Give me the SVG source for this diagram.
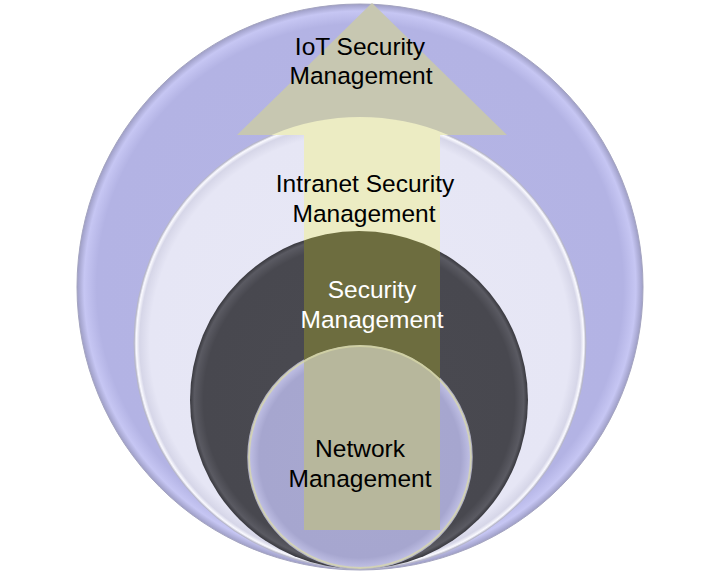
<svg xmlns="http://www.w3.org/2000/svg" xmlns:xlink="http://www.w3.org/1999/xlink" width="717" height="572" viewBox="0 0 717 572">
  <style>
    .lbl { font-family: "Liberation Sans", Arial, sans-serif; font-size: 24.5px; text-anchor: middle; }
    .dark { fill: #000000; }
    .light { fill: #ffffff; }
  </style>
  <defs>
    <radialGradient id="gOuter" cx="0.5" cy="0.5" r="0.5">
      <stop offset="0" stop-color="#b5b5e5"/>
      <stop offset="0.93" stop-color="#b3b3e4"/>
      <stop offset="0.975" stop-color="#c6c6f3"/>
      <stop offset="1" stop-color="#9e9ec6"/>
    </radialGradient>
    <radialGradient id="gSecond" cx="0.5" cy="0.5" r="0.5">
      <stop offset="0" stop-color="#e8e8f6"/>
      <stop offset="0.93" stop-color="#e6e6f5"/>
      <stop offset="0.975" stop-color="#d6d6e8"/>
      <stop offset="0.99" stop-color="#fafaff"/>
      <stop offset="1" stop-color="#b8b8cc"/>
    </radialGradient>
    <radialGradient id="gDark" cx="0.5" cy="0.5" r="0.5">
      <stop offset="0" stop-color="#4a4a51"/>
      <stop offset="0.92" stop-color="#48484f"/>
      <stop offset="0.975" stop-color="#5a5a62"/>
      <stop offset="1" stop-color="#38383e"/>
    </radialGradient>
    <radialGradient id="gSmall" cx="0.5" cy="0.5" r="0.5">
      <stop offset="0" stop-color="#a8a8d0"/>
      <stop offset="0.9" stop-color="#a6a6cf"/>
      <stop offset="0.97" stop-color="#babae0"/>
      <stop offset="1" stop-color="#c8c8d8"/>
    </radialGradient>
    <path id="arrowShape" d="M304,530 L304,135 L237,135 L372,3 L507,135 L440,135 L440,530 Z"/>
    <clipPath id="cSecond"><circle cx="360" cy="343" r="226"/></clipPath>
    <clipPath id="cDark"><circle cx="359" cy="400" r="169"/></clipPath>
    <clipPath id="cSmall"><circle cx="360" cy="457" r="112"/></clipPath>
  </defs>

  <g id="node-iot">
    <circle cx="360" cy="287" r="283" fill="url(#gOuter)" stroke="#a4a4c0" stroke-width="1"/>
  </g>
  <g id="node-intranet">
    <circle cx="360" cy="343" r="226" fill="url(#gSecond)" stroke="#b8b8ca" stroke-width="1"/>
  </g>
  <g id="node-security">
    <circle cx="359" cy="400" r="169" fill="url(#gDark)"/>
  </g>
  <g id="node-network">
    <circle cx="360" cy="457" r="112" fill="url(#gSmall)" stroke="#b0b0c4" stroke-width="1.5"/>
  </g>

  <g id="connectors">
    <use xlink:href="#arrowShape" fill="#c7c7b1"/>
    <use xlink:href="#arrowShape" fill="#ececc3" clip-path="url(#cSecond)"/>
    <use xlink:href="#arrowShape" fill="#6d6d3f" clip-path="url(#cDark)"/>
    <use xlink:href="#arrowShape" fill="#b7b79c" clip-path="url(#cSmall)"/>
    <g clip-path="url(#cSmall)">
      <circle cx="360" cy="457" r="111" fill="none" stroke="#d8d8a8" stroke-width="2" opacity="0.7"/>
    </g>
  </g>

  <g id="labels">
    <text class="lbl dark" x="360" y="55">IoT Security</text>
    <text class="lbl dark" x="361" y="84">Management</text>
    <text class="lbl dark" x="365" y="192">Intranet Security</text>
    <text class="lbl dark" x="364" y="222">Management</text>
    <text class="lbl light" x="372" y="298">Security</text>
    <text class="lbl light" x="372" y="328">Management</text>
    <text class="lbl dark" x="360" y="457">Network</text>
    <text class="lbl dark" x="360" y="487">Management</text>
  </g>
</svg>
